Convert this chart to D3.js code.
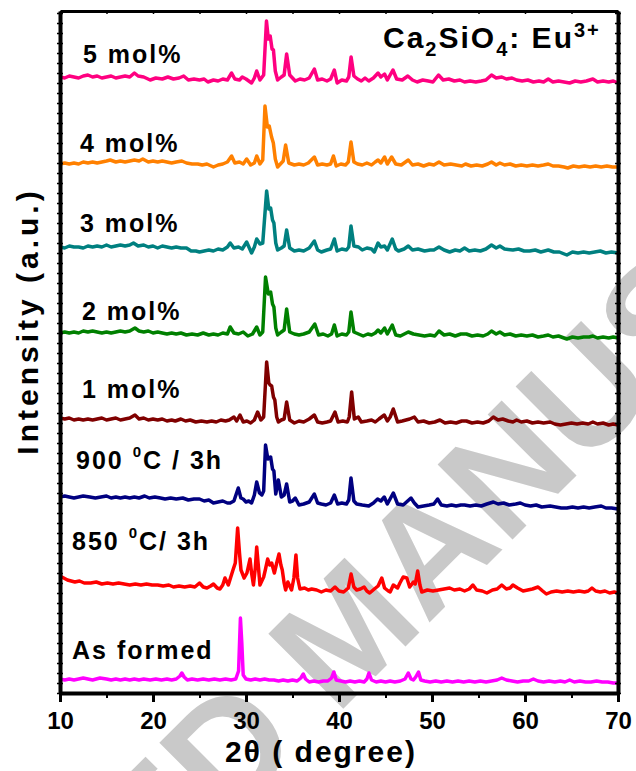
<!DOCTYPE html>
<html>
<head>
<meta charset="utf-8">
<script src="https://cdn.jsdelivr.net/npm/d3@7"></script>
<style>
  body { margin: 0; background: #fff; }
  svg text { font-family: "Liberation Sans", Arial, sans-serif; font-weight: bold; }
</style>
</head>
<body>
<div id="chart"></div>
<script>
// x ticks (2 theta, degree)
var xMajor = [10, 20, 30, 40, 50, 60, 70];
var xMinor = [15, 25, 35, 45, 55, 65];

// samples, bottom to top, with their vertical offsets (a.u.)
var names   = ['As formed', '850 C/ 3h', '900 C / 3h', '1 mol%', '2 mol%', '3 mol%', '4 mol%', '5 mol%'];
var offsets = [10, 100, 184, 268, 355, 440, 526, 610];

// [2theta, intensity above offset]
var asFormed = [[10,4],[10.5,3],[11,4],[11.5,3],[12,4],[12.5,5],[13,4],[13.5,3],[14.3,5],[15,4],[15.5,3],[16,4],[16.5,3],[17,4],[17.5,3],[18,4],[18.5,3],[19,4],[19.7,3],[20.3,4],[20.9,3],[21.5,4],[22,3],[22.5,4],[22.9,7],[23.1,10],[23.35,6],[23.7,3],[24.2,4],[24.8,3],[25.4,4],[26,3],[26.6,4],[27.2,3],[27.8,4],[28.4,3],[28.9,4],[29.2,12],[29.4,65],[29.55,40],[29.7,8],[30,4],[30.5,3],[31,4],[31.5,3],[32,4],[32.5,3],[33,3],[33.5,2],[34,3],[34.5,2],[35,3],[35.5,2],[35.9,5],[36.16,9],[36.4,4],[36.8,1],[37.3,2],[37.8,1],[38.3,2],[38.8,2],[39.2,5],[39.45,11],[39.7,3],[40.2,2],[40.7,1],[41.2,2],[41.7,1],[42.2,2],[42.7,1],[43.0,4],[43.22,10],[43.5,3],[44,1],[44.5,2],[45,1],[45.5,2],[46,1],[46.6,2],[47.1,4],[47.45,10],[47.75,4],[48,3],[48.25,6],[48.55,11],[48.8,3],[49.2,2],[49.8,1],[50.4,2],[51,1],[51.6,2],[52.2,1],[52.8,2],[53.4,1],[54,2],[54.6,1],[55.2,2],[55.8,1],[56.4,2],[57,3],[57.5,5],[58,3],[58.6,2],[59.2,1],[59.8,2],[60.4,2],[60.9,4],[61.4,2],[62,1],[62.6,2],[63.2,1],[63.8,2],[64.3,1],[64.8,3],[65.3,1],[65.9,2],[66.5,1],[67.1,1],[67.7,2],[68.3,1],[68.9,1],[69.5,0],[70,0]];

var c850 = [[10,17],[10.4,15],[10.8,13],[11.2,12],[11.6,11],[12.1,12],[12.6,10],[13.3,10],[13.9,11],[14.5,9],[15.1,10],[15.7,9],[16.3,10],[16.9,9],[17.5,8],[18.1,9],[18.7,8],[19.3,9],[19.9,8],[20.5,8],[21.1,7],[21.7,8],[22.2,6],[22.8,7],[23.4,6],[24,7],[24.5,6],[25,10],[25.4,6],[25.8,5],[26.2,7],[26.5,9],[26.9,5],[27.2,4],[27.5,8],[27.74,15],[28.1,8],[28.6,23],[28.85,30],[29.1,65],[29.3,40],[29.46,23],[29.8,15],[30.1,20],[30.43,34],[30.6,20],[30.8,8],[31.0,25],[31.15,46],[31.3,30],[31.5,8],[31.9,16],[32.1,24],[32.33,34],[32.55,28],[32.76,30],[33.05,20],[33.3,30],[33.55,39],[33.75,28],[33.9,23],[34.1,10],[34.26,3],[34.5,11],[34.9,3],[35.15,15],[35.37,38],[35.55,15],[35.8,4],[36.3,5],[36.7,3],[37.06,4],[37.6,3],[38.1,1],[38.6,3],[39.1,2],[39.57,6],[40,2],[40.5,1],[41,5],[41.3,19],[41.6,6],[41.9,3],[42.3,4],[42.7,6],[43.0,2],[43.3,0],[43.8,4],[44.2,7],[44.6,15],[44.9,5],[45.3,2],[45.5,1],[45.84,8],[46.3,5],[46.55,10],[46.9,16],[47.3,15],[47.6,6],[48.0,11],[48.2,9],[48.46,22],[48.7,8],[48.9,1],[49.5,3],[50.1,2],[50.7,3],[51.3,4],[51.9,5],[52.4,3],[53,4],[53.5,2],[54,4],[54.4,8],[54.8,3],[55.4,2],[55.9,0],[56.5,3],[57,4],[57.5,8],[58,4],[58.4,5],[58.7,8],[59.2,5],[59.8,2],[60.3,3],[60.8,4],[61.4,6],[61.9,2],[62.3,-1],[62.8,1],[63.4,2],[64,1],[64.6,2],[65.2,1],[65.8,2],[66.4,1],[66.8,2],[67.2,5],[67.6,2],[68.1,1],[68.6,2],[69.1,0],[69.6,1],[70,0]];

var c900 = [[10,12],[10.5,13],[11,12],[11.5,11],[12,12],[12.5,13],[13.2,12],[13.8,11],[14.4,12],[15,13],[15.5,11],[16,12],[16.5,11],[17,12],[17.5,11],[18,12],[18.5,11],[19.1,13],[19.6,11],[20.2,12],[20.8,11],[21.3,10],[21.9,11],[22.5,10],[23.2,11],[23.8,9],[24.4,10],[25,10],[25.5,8],[26,9],[26.5,6],[27,7],[27.5,8],[28,6],[28.3,6],[28.7,8],[29.17,21],[29.45,11],[29.7,10],[30.0,7],[30.3,8],[30.6,6],[30.9,14],[31.15,27],[31.45,16],[31.7,14],[31.9,18],[32.1,64],[32.35,50],[32.65,52],[32.85,40],[33.0,38],[33.2,15],[33.48,29],[33.8,12],[34.1,14],[34.37,25],[34.7,7],[35.0,8],[35.3,11],[35.7,4],[36.2,5],[36.8,7],[37.35,15],[37.7,6],[38.1,5],[38.6,4],[39.1,6],[39.5,14],[39.85,5],[40.3,6],[40.8,5],[41.05,9],[41.29,31],[41.6,8],[41.9,5],[42.5,4],[43.2,3],[43.7,6],[44.15,10],[44.5,8],[44.87,12],[45.2,5],[45.84,16],[46.3,5],[46.9,4],[47.74,11],[48.1,6],[48.5,2],[49.1,3],[49.7,4],[50.2,5],[50.6,10],[51.0,4],[51.6,3],[52.1,4],[52.6,3],[53.1,4],[53.5,4],[54.1,3],[54.7,4],[55.3,3],[55.9,5],[56.6,7],[57.1,5],[57.7,6],[58.3,4],[59,5],[59.5,6],[60,4],[60.6,3],[61.2,4],[61.8,2],[62.7,3],[63.3,2],[63.9,1],[64.5,1],[65.1,2],[65.7,1],[66.3,2],[66.9,1],[67.5,2],[68.2,3],[68.7,1],[69.3,1],[70,0]];

var mol1 = [[10,7],[10.5,6],[11,7],[11.5,5],[12,6],[12.5,5],[13,6],[13.5,5],[14,6],[14.5,7],[15,5],[15.5,6],[16,7],[16.5,5],[17,6],[17.5,7],[18.06,10],[18.5,6],[19,7],[19.5,5],[20,6],[20.5,5],[21,6],[21.5,4],[22,5],[22.4,4],[23,6],[23.5,4],[24,5],[24.6,3],[25.2,4],[25.8,3],[26.3,4],[26.8,3],[27.3,5],[27.8,4],[28.2,5],[28.7,8],[29.0,4],[29.35,10],[29.7,3],[30.1,4],[30.5,2],[30.9,5],[31.25,13],[31.6,5],[31.9,8],[32.22,63],[32.45,42],[32.6,40],[32.76,39],[32.95,28],[33.1,25],[33.3,8],[33.48,3],[33.8,5],[34.1,6],[34.37,23],[34.7,5],[35.2,2],[35.7,4],[36.2,3],[36.8,6],[37.35,10],[37.7,3],[38.2,2],[38.7,3],[39.1,4],[39.57,13],[39.9,3],[40.4,4],[40.9,3],[41.1,8],[41.36,33],[41.65,6],[42.07,8],[42.4,3],[43,4],[43.5,5],[43.9,3],[44.3,6],[44.87,10],[45.2,4],[45.5,8],[45.84,16],[46.3,3],[46.8,4],[47.6,6],[48.1,8],[48.5,3],[49.1,4],[49.7,2],[50.3,3],[50.85,5],[51.4,2],[52,3],[52.6,2],[53.2,4],[53.7,4],[54.3,2],[54.9,3],[55.5,2],[56.1,4],[56.6,8],[57.1,5],[57.6,6],[58.2,4],[58.7,3],[59.1,5],[59.6,3],[60.2,4],[60.8,2],[61.4,3],[62,2],[62.7,3],[63.2,1],[63.8,0],[64.4,1],[65,2],[65.6,1],[66.2,2],[66.8,1],[67.3,3],[67.8,1],[68.4,2],[69,0],[69.5,1],[70,0]];

var mol2 = [[10,5],[10.5,6],[11,5],[11.5,6],[12,5],[12.5,7],[13,6],[13.5,7],[14,6],[14.5,5],[15,6],[15.5,5],[16,6],[16.5,7],[17,6],[17.5,7],[18.06,10],[18.5,7],[19,6],[19.5,7],[20,5],[20.5,6],[21,5],[21.5,4],[22,5],[22.5,4],[23,5],[23.6,3],[24.2,4],[24.8,3],[25.4,5],[26,3],[26.5,4],[27,3],[27.5,5],[28,4],[28.3,11],[28.7,5],[29.2,4],[29.7,6],[30.2,2],[30.7,4],[31.15,11],[31.5,3],[31.8,6],[32.1,61],[32.4,44],[32.65,46],[32.85,34],[33.0,31],[33.2,10],[33.4,3],[33.8,6],[34.1,8],[34.37,29],[34.7,6],[35.2,4],[35.7,3],[36.2,4],[36.8,6],[37.4,14],[37.8,3],[38.3,4],[38.8,2],[39.2,4],[39.5,13],[39.8,2],[40.3,4],[40.8,3],[41.05,6],[41.29,26],[41.6,6],[42.1,4],[42.6,2],[43.1,4],[43.5,3],[43.9,5],[44.2,8],[44.5,5],[44.9,10],[45.2,4],[45.73,13],[46.1,3],[46.6,2],[47.45,6],[48,4],[48.6,3],[49.2,2],[49.8,3],[50.3,2],[50.75,7],[51.3,3],[51.9,4],[52.5,2],[53.1,4],[53.7,4],[54.3,2],[54.9,3],[55.5,2],[56,4],[56.4,7],[56.9,4],[57.3,6],[57.8,3],[58.4,4],[59,2],[59.6,3],[60.2,2],[60.8,3],[61.4,1],[62,2],[62.5,3],[63,1],[63.6,2],[64.2,0],[64.5,-1],[65.1,1],[65.7,0],[66.3,1],[66.9,1],[67.3,2],[67.8,0],[68.4,1],[69,0],[69.5,1],[70,0]];

var mol3 = [[10,6],[10.5,5],[11,7],[11.5,6],[12,6],[12.5,5],[13,7],[13.5,6],[14,7],[14.5,6],[15,8],[15.5,6],[16,7],[16.5,8],[17,7],[17.5,8],[17.9,10],[18.4,7],[19,8],[19.5,6],[20,7],[20.5,5],[21,7],[21.5,6],[22,5],[22.5,6],[23,5],[23.6,5],[24.1,2],[24.6,2],[25,1],[25.5,2],[26,3],[26.5,2],[27,4],[27.5,3],[28,6],[28.3,10],[28.7,5],[29.2,6],[29.6,4],[30.07,11],[30.6,0],[30.9,6],[31.15,14],[31.5,9],[31.8,10],[32.22,62],[32.45,44],[32.65,45],[32.85,33],[33.0,30],[33.2,10],[33.4,3],[33.8,5],[34.1,7],[34.37,23],[34.7,5],[35.2,2],[35.7,3],[36.2,2],[36.8,5],[37.35,12],[37.7,3],[38.1,1],[38.7,3],[39.1,4],[39.5,14],[39.8,2],[40.3,4],[40.8,3],[41.05,6],[41.29,27],[41.6,7],[42.1,6],[42.5,3],[43.0,5],[43.5,4],[43.8,1],[44.2,10],[44.5,6],[44.9,7],[45.2,3],[45.73,14],[46.1,4],[46.4,2],[47,4],[47.45,7],[47.9,3],[48.5,4],[49.2,2],[49.8,3],[50.2,3],[50.75,6],[51.3,3],[51.9,1],[52.5,3],[53,2],[53.5,5],[54,2],[54.6,3],[55.2,2],[55.8,4],[56.4,8],[56.9,5],[57.3,7],[57.8,4],[58.7,3],[59.3,4],[59.9,2],[60.5,2],[61.1,3],[61.7,1],[62.5,3],[63.1,1],[63.7,1],[64.5,-2],[65.1,1],[65.7,0],[66.3,1],[66.9,0],[67.5,1],[68.1,2],[68.7,0],[69.3,1],[70,0]];

var mol4 = [[10,3],[10.5,4],[11,3],[11.5,4],[12,3],[12.5,5],[13,4],[13.5,5],[14,4],[14.5,5],[15,6],[15.4,7],[16,5],[16.5,6],[17,5],[17.5,6],[18,7],[18.5,6],[18.9,8],[19.5,5],[20,6],[20.5,5],[21,6],[21.5,5],[22,4],[22.5,5],[23.1,6],[23.6,4],[24.2,3],[24.8,3],[25.3,2],[25.8,3],[26.5,0],[27,2],[27.5,3],[28,5],[28.45,11],[28.8,4],[29.3,5],[29.7,3],[30.07,8],[30.5,2],[30.9,4],[31.15,11],[31.5,3],[31.8,7],[32.04,61],[32.3,40],[32.5,41],[32.75,30],[32.94,24],[33.15,8],[33.4,0],[33.8,4],[34.0,6],[34.26,22],[34.6,4],[35.2,2],[35.7,3],[36.2,2],[36.7,4],[37.35,10],[37.7,2],[38.2,3],[38.7,2],[39.1,3],[39.4,11],[39.7,1],[40.2,3],[40.7,2],[41.0,5],[41.29,25],[41.6,5],[42.0,3],[42.5,2],[43.0,4],[43.5,2],[43.9,5],[44.2,7],[44.5,4],[44.9,10],[45.2,3],[45.66,10],[46.1,3],[46.7,2],[47.45,7],[47.9,2],[48.5,3],[49.1,1],[49.7,3],[50.2,2],[50.75,5],[51.3,2],[52,3],[52.6,2],[53.2,1],[53.6,3],[54.2,1],[54.8,2],[55.4,1],[56,3],[56.4,5],[56.9,2],[57.3,4],[57.8,2],[58.4,3],[59,1],[59.6,2],[60.2,1],[60.8,2],[61.4,1],[62,2],[62.5,3],[63,1],[63.6,1],[64.2,0],[64.6,-1],[65.2,1],[65.8,0],[66.4,1],[67,0],[67.6,1],[68.2,0],[68.8,1],[69.4,0],[70,0]];

var mol5 = [[10,6],[10.5,5],[11,7],[11.5,6],[12,5],[12.5,7],[13,8],[13.5,6],[14,7],[14.5,5],[15,6],[15.5,7],[16,5],[16.5,6],[17,7],[17.5,6],[18,10],[18.4,7],[19,6],[19.7,3],[20.3,5],[21,4],[21.6,6],[22.2,4],[22.8,5],[23.3,7],[23.8,3],[24.4,4],[25,3],[25.5,4],[25.9,1],[26.5,3],[27,2],[27.5,4],[28,3],[28.45,10],[28.8,4],[29.3,3],[29.6,6],[30,4],[30.6,0],[30.9,5],[31.15,12],[31.5,3],[31.9,8],[32.2,62],[32.4,44],[32.6,47],[32.8,34],[32.95,33],[33.15,12],[33.4,3],[33.8,6],[34.1,8],[34.37,29],[34.7,8],[35.3,2],[35.8,4],[36.3,3],[36.8,5],[37.35,14],[37.7,3],[38.2,4],[38.7,2],[39.1,4],[39.5,13],[39.8,0],[40.3,3],[40.8,2],[41.05,6],[41.3,26],[41.6,7],[42.0,4],[42.4,2],[42.8,5],[43.2,2],[43.7,5],[44.2,10],[44.5,6],[44.9,9],[45.2,3],[45.8,13],[46.2,4],[46.8,3],[47.4,7],[47.9,3],[48.4,1],[49,3],[49.6,2],[50.1,1],[50.7,8],[51.2,3],[51.8,4],[52.4,2],[53,3],[53.5,1],[54.1,2],[54.7,1],[55.3,2],[55.8,3],[56.4,8],[56.9,5],[57.5,6],[58,4],[58.6,5],[59.1,3],[59.7,2],[60.3,3],[60.9,1],[61.5,2],[62,1],[62.5,4],[63,1],[63.6,2],[64.2,1],[64.8,0],[65.4,2],[66,1],[66.6,2],[67.3,4],[67.8,1],[68.4,2],[69,1],[69.5,2],[70,0]];

var patterns = [asFormed, c850, c900, mol1, mol2, mol3, mol4, mol5];
var colors = ['#ff00ff', '#ff0000', '#000080', '#800000', '#008000', '#008080', '#ff8000', '#ff0080'];

var width = 636, height = 771;
var plotLeft = 60, plotRight = 618, plotTop = 11, plotBottom = 693;

var svg = d3.select('#chart')
  .append('svg')
    .attr('width', width)
    .attr('height', height);

var x = d3.scaleLinear().domain([10, 70]).range([plotLeft, plotRight]);
var y = d3.scaleLinear().domain([0, 682]).range([plotBottom, plotTop]);

// watermark, under everything
var wm = svg.append('g')
  .attr('transform', 'translate(336,716) rotate(-45)')
  .attr('fill', '#c9c9c9')
  .style('font-size', '154px');
wm.append('text').attr('text-anchor', 'end').attr('x', -43).text('ACCEPTED');
wm.append('text').attr('text-anchor', 'start').attr('x', 0).text('MANUSCRIPT');

// traces
var line = d3.line()
  .x(function(d) { return x(d[0]); });

svg.append('g')
  .selectAll('path.trace')
  .data(patterns)
  .enter()
    .append('path')
      .attr('class', 'trace')
      .attr('fill', 'none')
      .attr('stroke', function(d, i) { return colors[i]; })
      .attr('stroke-width', 3.5)
      .attr('stroke-linejoin', 'round')
      .attr('d', function(d, i) {
        return line.y(function(p) { return y(offsets[i] + p[1]); })(d);
      });

// axes
var bottomAxis = svg.append('g')
  .attr('transform', 'translate(0,' + plotBottom + ')')
  .call(d3.axisBottom(x).tickValues(xMajor).tickSize(9).tickSizeOuter(0).tickPadding(10)
    .tickFormat(d3.format('d')));
bottomAxis.select('.domain').attr('stroke-width', 4);
bottomAxis.selectAll('.tick line').attr('stroke-width', 3);
bottomAxis.selectAll('text').style('font-size', '24px').attr('fill', '#000');

svg.append('g')
  .attr('transform', 'translate(0,' + plotBottom + ')')
  .call(d3.axisBottom(x).tickValues(xMinor).tickSize(5).tickFormat(''))
  .call(function(g) { g.select('.domain').remove(); })
  .selectAll('line').attr('stroke-width', 2);

var topAxis = svg.append('g')
  .attr('transform', 'translate(0,' + plotTop + ')')
  .call(d3.axisTop(x).tickValues(xMajor.concat(xMinor)).tickSize(-3).tickSizeOuter(0).tickFormat(''));
topAxis.select('.domain').attr('stroke-width', 3);
topAxis.selectAll('line').attr('stroke-width', 1.5);

var yTicks = d3.range(0, 683, 10);
[[plotLeft, d3.axisLeft], [plotRight, d3.axisRight]].forEach(function(a) {
  var g = svg.append('g')
    .attr('transform', 'translate(' + a[0] + ',0)')
    .call(a[1](y).tickValues(yTicks).tickSize(3).tickSizeOuter(0).tickFormat(''));
  g.select('.domain').attr('stroke-width', 4);
  g.selectAll('.tick line').attr('x1', -3).attr('x2', 3).attr('stroke-width', 1.5);
});

// sample labels
var labelPos = [[72, 659], [72, 550], [76, 469], [82, 398], [82, 320], [80, 232], [80, 152], [83, 63]];
var labels = svg.append('g').style('font-size', '25px').style('letter-spacing', '2px');
names.forEach(function(name, i) {
  var t = labels.append('text').attr('x', labelPos[i][0]).attr('y', labelPos[i][1]);
  var m = name.match(/^(\d+) (C.*)$/);
  if (m) {
    t.append('tspan').text(m[1] + ' ');
    t.append('tspan').attr('dy', -12).style('font-size', '15px').text('0');
    t.append('tspan').attr('dy', 12).text(m[2]);
  } else {
    t.text(name);
  }
});

// compound
var title = svg.append('text')
  .attr('x', 383).attr('y', 48)
  .style('font-size', '30px').style('letter-spacing', '2px');
title.append('tspan').text('Ca');
title.append('tspan').attr('dy', 8).style('font-size', '20px').text('2');
title.append('tspan').attr('dy', -8).text('SiO');
title.append('tspan').attr('dy', 8).style('font-size', '20px').text('4');
title.append('tspan').attr('dy', -8).text(': Eu');
title.append('tspan').attr('dy', -11).style('font-size', '20px').text('3+');

// axis titles
svg.append('text')
  .attr('x', 321).attr('y', 762)
  .attr('text-anchor', 'middle')
  .style('font-size', '30px').style('letter-spacing', '2px')
  .text('2θ ( degree)');

svg.append('text')
  .attr('transform', 'translate(38,321) rotate(-90)')
  .attr('text-anchor', 'middle')
  .style('font-size', '30px').style('letter-spacing', '4px')
  .text('Intensity (a.u.)');
</script>
</body>
</html>
